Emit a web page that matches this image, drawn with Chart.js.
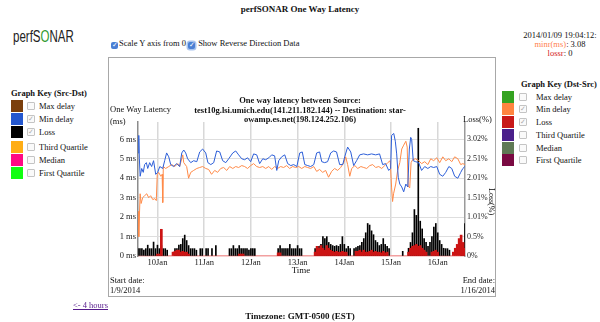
<!DOCTYPE html>
<html><head><meta charset="utf-8">
<script src="https://cdn.jsdelivr.net/npm/chart.js@4/dist/chart.umd.min.js"></script>
<style>
html,body{margin:0;padding:0;background:#fff;}
body{width:600px;height:322px;position:relative;overflow:hidden;font-family:"Liberation Serif","DejaVu Serif",serif;color:#111;}
.t{position:absolute;white-space:nowrap;line-height:10px;font-size:8.5px;}
.b{font-weight:bold;}
.sw{position:absolute;width:12px;height:12px;}
.cb{position:absolute;width:6px;height:6px;border:1px solid #c4c4c4;border-radius:1px;background:#fafafa;font-size:7px;line-height:6px;color:#aaa;text-align:center;}
.hcb{display:inline-block;width:7px;height:7px;background:#4a7fd4;border-radius:2px;color:#fff;font-size:7px;line-height:7px;text-align:center;vertical-align:-1px;margin-right:1px;}
#box{position:absolute;left:108px;top:57px;width:386px;height:238px;border:1.5px solid #a8a8a8;}
canvas{position:absolute;left:109px;top:58px;}
</style></head><body>

<div class="t b" style="left:0;width:600px;text-align:center;top:4px;font-size:9px;">perfSONAR One Way Latency</div>
<div class="t" style="left:13px;top:28px;font-family:'Liberation Sans',Arial,sans-serif;font-size:16px;line-height:18px;transform:scaleX(0.72);transform-origin:left center;color:#222;">perfS<span style="color:#2f9a2f">O</span>NAR</div>
<div class="t" style="left:111px;top:38px;"><span class="hcb">✓</span>Scale Y axis from 0 <span class="hcb" style="box-shadow:0 0 0 1.5px #a9c4ee;">✓</span> Show Reverse Direction Data</div>
<div class="t" style="left:510px;width:100px;text-align:center;top:30px;">2014/01/09 19:04:12:</div>
<div class="t" style="left:510px;width:100px;text-align:center;top:39px;"><span style="color:#ff7f50">minr(ms)</span>: 3.08</div>
<div class="t" style="left:510px;width:100px;text-align:center;top:48px;"><span style="color:#d42020">lossr</span>: 0</div>

<div class="t b" style="left:11px;top:88px;">Graph Key (Src-Dst)</div>
<div id="legL"></div>
<div class="t b" style="left:521px;top:79px;">Graph Key (Dst-Src)</div>
<div id="legR"></div>

<div id="box"></div>
<canvas id="c" width="387" height="239"></canvas>

<div class="t b" style="left:150px;width:300px;text-align:center;top:96px;line-height:9.5px;">One way latency between Source:<br>test10g.lsi.umich.edu(141.211.182.144) -- Destination: star-<br>owamp.es.net(198.124.252.106)</div>
<div class="t" style="left:110px;top:103px;line-height:12px;">One Way Latency<br>(ms)</div>
<div class="t" style="left:463px;top:114px;">Loss(%)</div>
<div class="t" style="left:487px;top:188px;writing-mode:vertical-rl;line-height:8px;font-size:8px;color:#000;">Loss(%)</div>
<div class="t" style="left:251px;width:100px;text-align:center;top:265px;font-size:9px;">Time</div>
<div class="t" style="left:110px;top:276px;line-height:9.5px;">Start date:<br>1/9/2014</div>
<div class="t" style="left:395px;width:100px;text-align:right;top:276px;line-height:9.5px;">End date:<br>1/16/2014</div>

<div class="t" style="left:73px;top:300px;color:#551a8b;text-decoration:underline;">&lt;- 4 hours</div>
<div class="t b" style="left:0;width:600px;text-align:center;top:311px;font-size:9px;">Timezone: GMT-0500 (EST)</div>

<script>
// ---------- legend keys ----------
const legendLabels = ['Max delay','Min delay','Loss','Third Quartile','Median','First Quartile'];
const legendColorsSrc = ['#7b3f0c','#2457cf','#000000','#ffad14','#ff0a84','#10ff10'];
const legendColorsDst = ['#35a321','#ff8540','#c81818','#4a1f8a','#5f7a55','#7a0a42'];
const legendChecked = [false,true,true,false,false,false];

// ---------- axes ----------
const dayHours = [24,48,72,96,120,144,168];
const dayLabels = ['10Jan','11Jan','12Jan','13Jan','14Jan','15Jan','16Jan'];
const latencyTicks = [0,1,2,3,4,5,6];
const latencyTickLabels = ['0 ms','1 ms','2 ms','3 ms','4 ms','5 ms','6 ms'];
const lossTickLabels = ['0%','0.5%','1.01%','1.51%','2.01%','2.51%','3.02%'];
const latencyMax = 6.89;
const lossPerMs = 0.5025;

// ---------- Src-Dst min delay (ms), hours since 1/9 00:00 ----------
const srcHours = [14,14.4,14.7,15.1,15.9,16.7,17.4,18.3,19,20,21,22,23.1,24.1,25.2,26.7,27.7,28.7,29.8,30.8,32.3,33.9,35.4,36.5,37.5,38.5,39.5,41.1,42.6,44.2,45.7,47.2,48.8,49.9,51.4,52.9,54.4,56,57.5,59.1,60.6,62.7,64.2,65.7,67.3,68.8,70.3,71.9,73.4,75,76.5,78.1,79.6,81.2,82.7,84.2,85.3,86.3,87.8,89.4,90.9,92.5,94,95.6,97.1,98.4,99.7,101.2,102.7,104.3,105.8,107.3,108.4,109.9,111.4,113,114.5,116,117.6,119.2,120.2,121.7,123.3,124.8,126.3,127.9,129.9,132,134,136.1,138.1,139.7,141.2,142.8,143.8,144.3,145.4,146.2,146.9,147.7,148.5,149.5,150.5,151.6,152.6,153.4,154.1,154.6,155.4,156.6,158.2,159.7,161.3,162.9,164.4,165.9,167.5,169,170.6,172.1,173.7,175.2,176.7,178.3,179.8,180.9,181.9];
const srcMinDelay = [5.3,6.2,5.0,4.1,4.5,4.3,4.7,4.8,4.5,4.8,4.6,4.9,4.2,4.3,4.6,4.5,4.9,5.3,5.1,4.7,4.6,4.75,4.6,5.3,5.45,5.3,5.0,4.8,4.9,4.85,5.35,5.5,5.3,4.8,4.7,4.8,5.4,5.35,4.9,4.8,5.0,5.3,5.4,5.2,5.0,4.95,5.05,4.85,5.25,5.2,4.75,5.0,4.95,5.05,5.2,5.15,4.4,4.9,5.1,5.2,4.75,4.65,4.7,4.6,5.3,5.35,4.7,4.65,4.6,4.7,5.3,5.35,4.85,4.8,4.85,5.3,5.4,5.35,4.7,4.7,5.1,5.6,5.35,4.65,4.9,5.2,5.25,5.2,5.25,5.2,5.25,4.7,4.75,4.4,4.5,6.2,6.3,5.9,5.25,4.05,3.7,3.55,3.3,3.7,3.55,5.5,6.1,6.0,4.9,4.85,4.8,4.4,4.6,4.5,4.6,4.55,4.6,4.2,4.1,4.3,4.6,4.5,4.1,4.0,4.3,4.5,4.6];

// ---------- Dst-Src min delay (ms) ----------
const dstHours = [14,14.4,14.7,15.1,15.6,16.4,17.4,18.5,19.5,20.5,21.6,22.6,23.4,23.9,24.6,25.7,26.4,26.7,27,28.2,29.8,31.3,32.9,34.4,35.4,37,37.5,39,40,41.1,42.6,44.2,45.7,47.2,48.8,50.3,51.8,53.4,54.9,56.5,58,59.6,61.1,62.7,64.2,65.7,67.3,68.8,70.3,71.9,73.4,75,76.5,78.1,79.6,81.2,82.7,84.2,85.7,87.3,88.8,90.4,91.9,93.5,95,96.6,98.1,99.7,101.2,102.7,104.3,105.8,107.3,108.9,110.4,111.9,113.5,115,116.6,118.1,119.7,120.7,121.7,122.8,123.8,125.4,126.9,128.5,130,131.5,133.1,134.6,136.1,137.7,139.2,140.8,142.3,143.6,144.3,144.8,145.3,146.4,147.4,148.5,149.5,150.5,151.6,152.3,152.8,153.6,154.3,155.1,156.6,158.2,159.7,161.3,162.9,164.4,165.9,167.5,169,170.6,172.1,173.7,175.2,176.7,178.3,179.8,180.9,181.9];
const dstMinDelay = [2.3,1.0,2.0,3.2,2.7,3.0,3.1,3.2,3.0,3.1,2.9,2.95,2.85,4.2,4.3,4.1,4.2,2.75,4.6,4.5,4.6,4.7,4.6,4.75,4.6,5.2,4.8,4.6,4.0,4.3,4.4,4.5,4.55,4.6,4.5,4.45,4.2,4.4,4.3,4.5,4.55,4.4,4.6,4.5,4.6,4.55,4.65,4.6,4.5,4.65,4.75,4.6,4.55,4.6,4.5,4.6,4.45,4.6,4.5,4.6,4.55,4.65,4.5,4.6,4.55,4.6,4.5,4.6,4.55,4.5,4.6,4.35,4.45,4.3,4.4,4.05,4.35,4.5,4.4,4.55,4.8,5.1,4.7,4.1,4.5,4.65,4.5,4.6,4.55,4.5,4.65,4.7,4.55,4.6,4.5,4.65,4.8,4.9,3.5,2.8,3.2,3.7,4.4,4.8,5.5,5.7,5.9,5.6,3.6,3.5,4.8,4.95,5.0,4.9,4.75,4.85,4.7,5.0,4.9,5.05,4.8,5.1,4.9,5.0,4.85,5.1,5.0,4.7,4.75,4.7];

// ---------- Src-Dst loss (%) ----------
const srcLossHours = [14,15,16,17,18,19,20,21,22,23,24,25,26,27,28,29,33,34,35,36,37,38,39,40,41,42,43,44,46,47,49,50,52,54,61,62,63,64,65,66,67,68,69,70,71,72,73,74,86,87,88,89,90,91,92,93,94,95,96,97,98,105,106,107,108,109,110,111,112,113,114,115,116,117,118,119,120,121,122,123,125,126,127,128,129,130,131,132,133,134,135,136,137,138,139,140,141,142,143,150,153,154,155,156,157,158,159,160,161,162,163,164,165,166,167,168,169,170,171,172,173,174,180,181,182];
const srcLossPct = [0.19,0.19,0.19,0.15,0.19,0.28,0.19,0.19,0.36,0.19,0.28,0.19,0.27,0.19,0.19,0.15,0.19,0.19,0.28,0.3,0.45,0.54,0.4,0.27,0.19,0.19,0.19,0.15,0.19,0.19,0.19,0.19,0.19,0.27,0.19,0.19,0.27,0.19,0.19,0.27,0.19,0.19,0.19,0.19,0.15,0.19,0.19,0.19,0.19,0.27,0.19,0.19,0.19,0.19,0.3,0.19,0.19,0.19,0.27,0.19,0.19,0.19,0.19,0.25,0.3,0.5,0.45,0.5,0.35,0.3,0.27,0.25,0.27,0.25,0.3,0.5,0.3,0.19,0.25,0.19,0.19,0.22,0.25,0.27,0.35,0.45,0.6,0.84,0.8,0.65,0.55,0.4,0.35,0.27,0.3,0.45,0.3,0.25,0.19,0.12,0.2,0.35,0.6,1.2,1.05,3.3,0.9,0.7,0.45,0.35,0.25,0.35,0.5,0.75,0.84,0.6,0.4,0.3,0.2,0.19,0.19,0.15,0.19,0.3,0.84];

// ---------- Dst-Src loss (%) ----------
const dstLossHours = [24,25,26,32,33,34,35,36,37,38,39,40,66,67,68,86,87,105,106,107,108,109,110,111,112,113,114,115,116,117,118,119,120,121,126,127,128,129,130,131,132,133,134,135,136,137,138,139,140,141,142,153,154,155,156,157,158,159,160,161,162,165,166,167,168,176,177,178,179,180,181,182];
const dstLossPct = [0.05,0.05,0.69,0.1,0.12,0.15,0.15,0.1,0.12,0.1,0.1,0.05,0.05,0.05,0.05,0.08,0.08,0.1,0.25,0.2,0.27,0.2,0.15,0.27,0.2,0.15,0.12,0.1,0.12,0.1,0.1,0.12,0.1,0.1,0.12,0.12,0.15,0.1,0.15,0.1,0.1,0.12,0.15,0.1,0.12,0.1,0.1,0.08,0.12,0.08,0.1,0.1,0.2,0.25,0.27,0.3,0.25,0.27,0.2,0.15,0.1,0.1,0.12,0.15,0.1,0.1,0.2,0.3,0.45,0.54,0.35,0.2];

// ---------- legends (HTML) ----------
function buildLegend(id, colors, swX, cbX, txtX, rowsY){
  const el = document.getElementById(id);
  legendLabels.forEach((lab,i)=>{
    const y = rowsY[i];
    el.insertAdjacentHTML('beforeend',
      `<div class="sw" style="left:${swX}px;top:${y-6}px;background:${colors[i]}"></div>`+
      `<div class="cb" style="left:${cbX}px;top:${y-4}px;">${legendChecked[i]?'✓':''}</div>`+
      `<div class="t" style="left:${txtX}px;top:${y-5}px;">${lab}</div>`);
  });
}
buildLegend('legL', legendColorsSrc, 11, 27, 39, [105.5,118.5,131.5,147,160,173]);
buildLegend('legR', legendColorsDst, 502, 519, 536, [96.5,109,121.5,135,147.5,160]);

// ---------- chart ----------
const pairs = (xs, ys) => xs.map((x,i)=>({x:x, y:ys[i]}));
const serif = '"Liberation Serif","DejaVu Serif",serif';

new Chart(document.getElementById('c'), {
  type: 'line',
  data: {
    datasets: [
      {type:'line', label:'Min delay (Src-Dst)', data:pairs(srcHours, srcMinDelay), yAxisID:'y',
       borderColor:'#2c5ed8', borderWidth:1, pointRadius:0, tension:0, fill:false},
      {type:'line', label:'Min delay (Dst-Src)', data:pairs(dstHours, dstMinDelay), yAxisID:'y',
       borderColor:'#ff8a48', borderWidth:1, pointRadius:0, tension:0, fill:false},
      {type:'bar', label:'Loss (Dst-Src)', data:pairs(dstLossHours, dstLossPct), yAxisID:'y1',
       backgroundColor:'#cc1414', barThickness:2, grouped:false},
      {type:'bar', label:'Loss (Src-Dst)', data:pairs(srcLossHours, srcLossPct), yAxisID:'y1',
       backgroundColor:'#000000', barThickness:1, grouped:false}
    ]
  },
  options: {
    responsive:false, animation:false, devicePixelRatio:1,
    layout:{padding:{top:64,left:0,right:0,bottom:0}},
    plugins:{legend:{display:false}, tooltip:{enabled:false}, title:{display:false}},
    scales:{
      x:{type:'linear', min:14, max:182, offset:false,
         afterBuildTicks:s=>{ s.ticks = dayHours.map(v=>({value:v})); },
         afterFit:s=>{ s.height = 41; },
         ticks:{callback:v=>dayLabels[dayHours.indexOf(v)], autoSkip:false, maxRotation:0,
                font:{family:serif, size:8.5}, color:'#222', padding:2},
         grid:{color:'#d8d8d8', lineWidth:1.5, drawTicks:false, offset:false},
         border:{color:'#f2a0a0', width:1.5}},
      y:{position:'left', min:0, max:latencyMax,
         afterBuildTicks:s=>{ s.ticks = latencyTicks.map(v=>({value:v})); },
         afterFit:s=>{ s.width = 29; },
         ticks:{callback:(v,i)=>latencyTickLabels[i], font:{family:serif, size:8.5}, color:'#222', padding:2},
         grid:{color:c=>c.tick && c.tick.value===0 ? 'rgba(0,0,0,0)' : '#dedede', lineWidth:1, drawTicks:false},
         border:{color:'#8c8c8c', width:1.5}},
      y1:{position:'right', min:0, max:latencyMax*lossPerMs,
         afterBuildTicks:s=>{ s.ticks = latencyTicks.map(v=>({value:v*lossPerMs})); },
         afterFit:s=>{ s.width = 31; },
         ticks:{callback:(v,i)=>lossTickLabels[i], font:{family:serif, size:8}, color:'#222', padding:2},
         grid:{drawOnChartArea:false, drawTicks:false},
         border:{color:'#9a9a9a', width:1.5}}
    }
  }
});
</script>
</body></html>
